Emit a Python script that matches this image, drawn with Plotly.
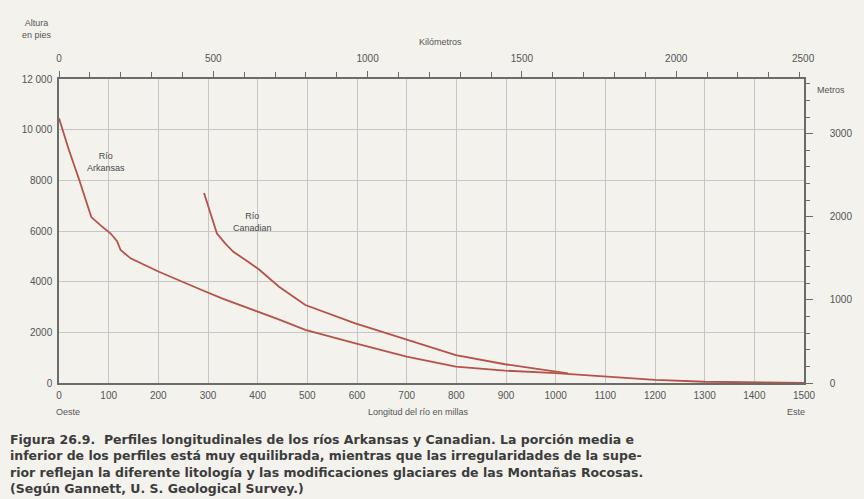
import plotly.graph_objects as go

# ---- data ----
arkansas_miles = [0, 20, 41, 55, 65, 85, 104, 117, 124, 144, 200, 279, 328, 437, 496, 595, 700, 799, 898, 1000, 1100, 1200, 1300, 1400, 1500]
arkansas_ft = [10450, 9200, 8000, 7100, 6550, 6200, 5900, 5600, 5250, 4920, 4400, 3740, 3340, 2550, 2100, 1570, 1040, 650, 490, 390, 245, 120, 50, 20, 0]

canadian_miles = [292, 305, 318, 335, 351, 380, 404, 443, 483, 496, 595, 700, 799, 898, 1000, 1025]
canadian_ft = [7500, 6700, 5900, 5500, 5180, 4800, 4460, 3800, 3280, 3080, 2360, 1700, 1100, 740, 440, 380]

miles_ticks = list(range(0, 1501, 100))
ft_tickvals = [0, 2000, 4000, 6000, 8000, 10000, 12000]
ft_ticktext = ["0", "2000", "4000", "6000", "8000", "10 000", "12 000"]
km_tickvals = [0, 500, 1000, 1500, 2000]
m_tickvals = [0, 1000, 2000, 3000]

caption_lines = [
    "Figura 26.9.  Perfiles longitudinales de los ríos Arkansas y Canadian. La porción media e",
    "inferior de los perfiles está muy equilibrada, mientras que las irregularidades de la supe-",
    "rior reflejan la diferente litología y las modificaciones glaciares de las Montañas Rocosas.",
    "(Según Gannett, U. S. Geological Survey.)",
]

MI_TO_KM = 1.609344
FT_TO_M = 0.3048

LINE = "#b5524a"
TXT = "#555555"
AX = "#6b6b6b"
GRID = "#c6c6c6"
BG = "#f3f2ed"
FONT = "Liberation Sans"

W, H = 864, 499
L, R, T, B = 59, 46, 79, 116

fig = go.Figure()
fig.add_trace(go.Scatter(x=arkansas_miles, y=arkansas_ft, mode="lines",
                         line=dict(color=LINE, width=1.8), showlegend=False, name="Río Arkansas"))
fig.add_trace(go.Scatter(x=canadian_miles, y=canadian_ft, mode="lines",
                         line=dict(color=LINE, width=1.8), showlegend=False, name="Río Canadian"))
# helper traces so the secondary axes are drawn
fig.add_trace(go.Scatter(x=[0], y=[0], xaxis="x2", yaxis="y", mode="markers",
                         marker=dict(opacity=0), showlegend=False, hoverinfo="skip"))
fig.add_trace(go.Scatter(x=[0], y=[0], xaxis="x", yaxis="y2", mode="markers",
                         marker=dict(opacity=0), showlegend=False, hoverinfo="skip"))

fig.update_layout(
    width=W, height=H,
    margin=dict(l=L, r=R, t=T, b=B),
    paper_bgcolor=BG, plot_bgcolor=BG,
    font=dict(family=FONT, size=10, color=TXT),
    xaxis=dict(range=[0, 1500], tickvals=miles_ticks, showgrid=True, gridcolor=GRID, gridwidth=1,
               showline=True, linecolor=AX, linewidth=1.5, ticks="", zeroline=False,
               layer="below traces",
               ticklabelstandoff=2, tickfont=dict(size=10, color=TXT)),
    xaxis2=dict(range=[0, 1500 * MI_TO_KM], overlaying="x", side="top", tickvals=km_tickvals,
                showgrid=False, showline=True, linecolor=AX, linewidth=1.5, zeroline=False,
                ticks="outside", ticklen=6, tickcolor=AX,
                minor=dict(dtick=100, ticks="outside", ticklen=5, tickcolor=AX, showgrid=False),
                ticklabelstandoff=5, tickfont=dict(size=10, color=TXT)),
    yaxis=dict(range=[0, 12000], tickvals=ft_tickvals, ticktext=ft_ticktext, showgrid=True,
               gridcolor=GRID, gridwidth=1, showline=True, linecolor=AX, linewidth=1.5,
               ticks="", zeroline=False, ticklabelstandoff=3, tickfont=dict(size=10, color=TXT)),
    yaxis2=dict(range=[0, 12000 * FT_TO_M], overlaying="y", side="right", tickvals=m_tickvals,
                showgrid=False, showline=True, linecolor=AX, linewidth=1.5, zeroline=False,
                ticks="outside", ticklen=7, tickcolor=AX,
                minor=dict(dtick=200, ticks="outside", ticklen=4, tickcolor=AX, showgrid=False),
                ticklabelstandoff=15, tickfont=dict(size=10, color=TXT)),
)

def px(xp):
    return (xp - L) / (W - L - R)

def py(yp):
    return (H - B - yp) / (H - T - B)

ann = [
    dict(text="Altura<br>en pies", x=37, y=29, size=9),
    dict(text="Kilómetros", x=448, y=42, size=9),
    dict(text="2500", x=817, y=58, size=10),
    dict(text="Metros", x=846, y=90, size=9),
    dict(text="Oeste", x=68, y=412, size=9),
    dict(text="Longitud del río en millas", x=425, y=412, size=9),
    dict(text="Este", x=810, y=412, size=9),
]
for a in ann:
    fig.add_annotation(text=a["text"], xref="paper", yref="paper", x=px(a["x"]), y=py(a["y"]),
                       xanchor="center", yanchor="middle", showarrow=False,
                       font=dict(size=a["size"], color=TXT, family=FONT))

# river labels in data coordinates
fig.add_annotation(text="Río<br>Arkansas", x=94, y=8725, xref="x", yref="y", showarrow=False,
                   font=dict(size=9, color="#4a4a4a", family=FONT))
fig.add_annotation(text="Río<br>Canadian", x=389, y=6360, xref="x", yref="y", showarrow=False,
                   font=dict(size=9, color="#4a4a4a", family=FONT))

fig.add_annotation(text="<b>" + "<br>".join(caption_lines) + "</b>", xref="paper", yref="paper",
                   x=px(7), y=py(464), xanchor="left", yanchor="middle", align="left",
                   showarrow=False,
                   font=dict(size=12.5, color="#3c3c3c", family="DejaVu Sans"))

fig.write_html("out.html", config={"displayModeBar": False},
               post_script="document.body.style.margin='0';document.body.style.background='%s';" % BG)
